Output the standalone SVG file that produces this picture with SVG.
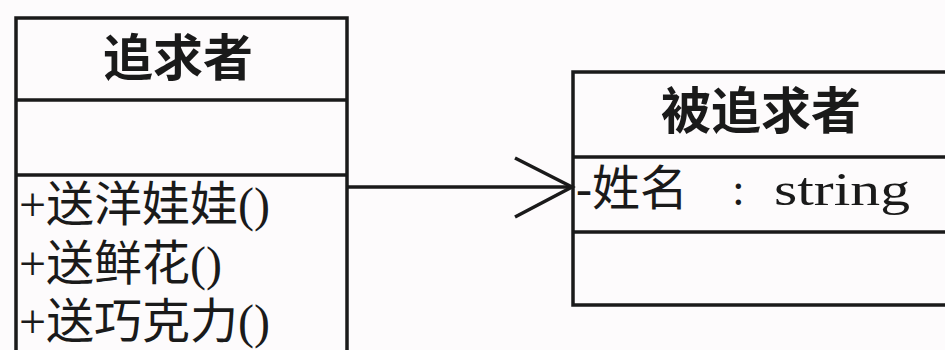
<svg xmlns="http://www.w3.org/2000/svg" width="945" height="350" viewBox="0 0 945 350">
<style>
.box{fill:none;stroke:#1a1a1a;stroke-width:3.5}
.ln{stroke:#1a1a1a;stroke-width:3.5;fill:none}
.title{font-family:"Noto Sans CJK SC","Liberation Serif",sans-serif;font-weight:bold;font-size:50px;fill:#1a1a1a;text-anchor:middle}
.txt{font-family:"Liberation Serif","Noto Sans CJK SC",serif;font-size:48px;fill:#1a1a1a}
.lat{font-family:"Liberation Serif","Noto Sans CJK SC",serif;font-size:46px;fill:#1a1a1a}
</style>
<rect width="945" height="350" fill="#fdfbfc"/>
<g id="chaser">
<rect class="box" x="16" y="18" width="331" height="345"/>
<line class="ln" x1="16" y1="100" x2="347" y2="100"/>
<line class="ln" x1="16" y1="175" x2="347" y2="175"/>
<text class="title" x="178" y="76">追求者</text>
<text class="txt" x="19" y="221">+送洋娃娃()</text>
<text class="txt" x="19" y="280">+送鲜花()</text>
<text class="txt" x="19" y="338">+送巧克力()</text>
</g>
<g id="pursued">
<rect class="box" x="573" y="72" width="390" height="233"/>
<line class="ln" x1="573" y1="157" x2="963" y2="157"/>
<line class="ln" x1="573" y1="232" x2="963" y2="232"/>
<text class="title" x="761" y="129">被追求者</text>
<text class="txt" x="576" y="205">-姓名<tspan class="lat" x="732">:</tspan><tspan class="lat" x="774" textLength="136" lengthAdjust="spacingAndGlyphs">string</tspan></text>
</g>
<g id="connectors">
<line class="ln" x1="347" y1="187" x2="572" y2="187"/>
<polyline class="ln" points="515,158 572,187 515,217"/>
</g>
</svg>
